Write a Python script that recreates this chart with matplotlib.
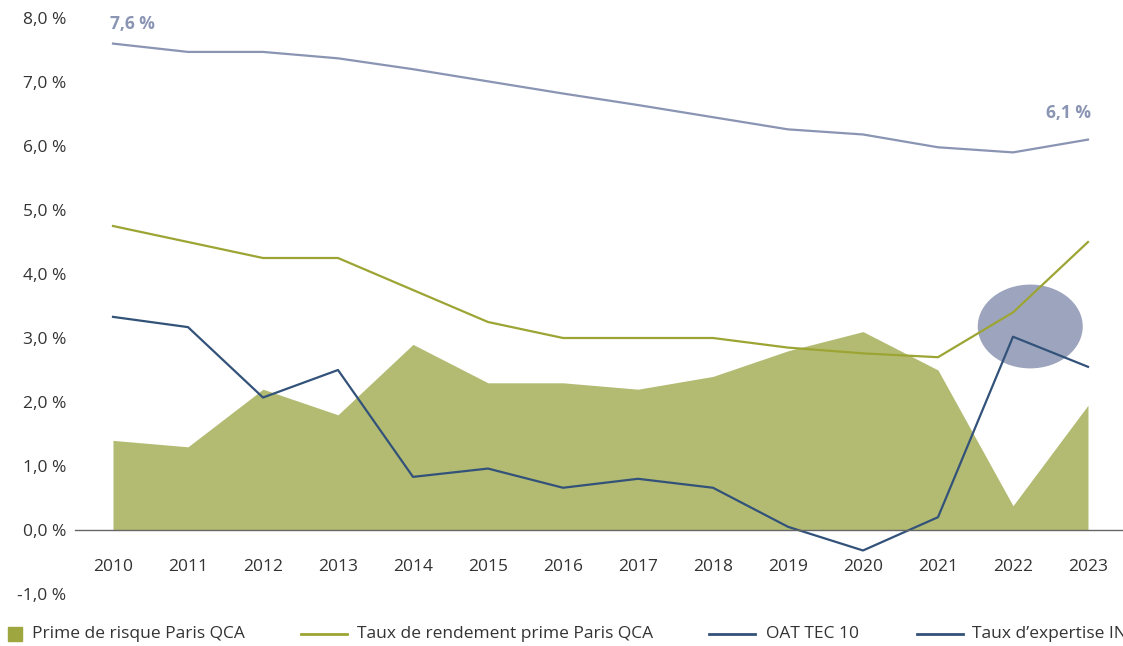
import numpy as np
import matplotlib
matplotlib.use('Agg')
import matplotlib.pyplot as plt
from matplotlib.patches import Ellipse, Rectangle
from matplotlib.lines import Line2D

plt.rcParams['font.family'] = ['Open Sans', 'DejaVu Sans']

annees = np.arange(2010, 2024)
prime_risque = [1.4, 1.3, 2.2, 1.8, 2.9, 2.3, 2.3, 2.2, 2.4, 2.8, 3.1, 2.5, 0.38, 1.95]
taux_rendement = [4.75, 4.5, 4.25, 4.25, 3.75, 3.25, 3.0, 3.0, 3.0, 2.85, 2.76, 2.7, 3.4, 4.5]
oat_tec10 = [3.33, 3.17, 2.07, 2.5, 0.83, 0.96, 0.66, 0.8, 0.66, 0.05, -0.32, 0.2, 3.02, 2.55]
taux_expertise = [7.6, 7.47, 7.47, 7.37, 7.2, 7.01, 6.82, 6.64, 6.45, 6.26, 6.18, 5.98, 5.9, 6.1]

noms = ['Prime de risque Paris QCA', 'Taux de rendement prime Paris QCA',
        'OAT TEC 10', "Taux d\u2019expertise INSEE"]

vert_aire = '#b3bb72'
vert_ligne = '#9ca534'
bleu = '#33527a'
lavande = '#8a94b3'
gris_texte = '#333333'


def fmt(v):
    return f'{v:.1f} %'.replace('.', ',')


fig = plt.figure(figsize=(11.23, 6.46), dpi=100)
ax = fig.add_axes([75 / 1123, 52 / 646, 1048 / 1123, 576 / 646])

ax.fill_between(annees, 0, prime_risque, color=vert_aire, linewidth=0, zorder=1)
ax.add_patch(Ellipse((2022.23, 3.18), 1.4, 1.31, color='#9ca5bd', zorder=2, linewidth=0))
ax.plot(annees, taux_rendement, color=vert_ligne, lw=1.6, zorder=3)
ax.plot(annees, oat_tec10, color=bleu, lw=1.6, zorder=3)
ax.plot(annees, taux_expertise, color=lavande, lw=1.6, zorder=3)

# valeurs de début et de fin pour le taux d'expertise
ax.annotate(fmt(taux_expertise[0]), xy=(annees[0], taux_expertise[0]), xytext=(-2, 14),
            textcoords='offset points', ha='left', va='center', fontsize=12.5,
            fontweight='bold', color=lavande)
ax.annotate(fmt(taux_expertise[-1]), xy=(annees[-1], taux_expertise[-1]), xytext=(2, 19),
            textcoords='offset points', ha='right', va='center', fontsize=12.5,
            fontweight='bold', color=lavande)

ax.set_xlim(2010 - 38 / 75, 2010 - 38 / 75 + 1048 / 75)
ax.set_ylim(-1, 8)
ax.set_xticks(annees)
ax.set_xticklabels([str(a) for a in annees])
ax.set_yticks(np.arange(-1, 9))
ax.set_yticklabels([fmt(v) for v in np.arange(-1, 9)])
ax.tick_params(axis='x', length=0, pad=21, labelsize=12.5, labelcolor=gris_texte)
ax.tick_params(axis='y', length=0, pad=6.5, labelsize=12.5, labelcolor=gris_texte)

for s in ['top', 'right', 'left']:
    ax.spines[s].set_visible(False)
ax.spines['bottom'].set_position(('data', 0))
ax.spines['bottom'].set_color('#666666')
ax.spines['bottom'].set_linewidth(1.0)
ax.spines['bottom'].set_zorder(4)

# légende sous le graphique
yl = (646 - 634) / 646
fig.patches.append(Rectangle((8 / 1123, (646 - 641) / 646), 14 / 1123, 14 / 646,
                             transform=fig.transFigure, color='#9ea63f', figure=fig))
for x0, couleur in [(301, vert_ligne), (709, bleu), (917, bleu)]:
    fig.lines.append(Line2D([x0 / 1123, (x0 + 46) / 1123], [yl, yl], transform=fig.transFigure,
                            color=couleur, lw=2, figure=fig))
for x0, nom in zip([32, 357, 766, 972], noms):
    fig.text(x0 / 1123, yl, nom, ha='left', va='center', fontsize=12.5, color=gris_texte)

fig.savefig('out.png', dpi=100)
